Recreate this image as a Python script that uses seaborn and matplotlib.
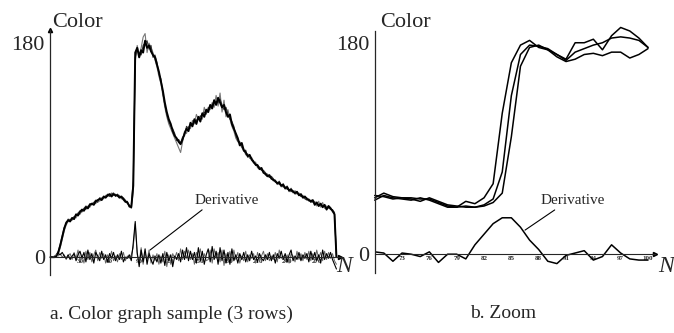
import numpy as np
import pandas as pd
import matplotlib
matplotlib.use('Agg')
import matplotlib.pyplot as plt
import seaborn as sns

sns.set_style('white')
plt.rcParams['font.family'] = ['Liberation Serif', 'DejaVu Serif']

# ---- panel a: three rows of colour values, sampled every 2 pixels (N = 0..290)
row_a = [0, 0, 0, 1, 4, 10, 17, 24, 29, 31,
         30, 33, 32, 36, 35, 38, 40, 39, 42, 41,
         44, 45, 44, 47, 48, 49, 48, 51, 50, 52,
         53, 51, 53, 52, 52, 50, 51, 49, 47, 46,
         43, 42, 60, 172, 176, 168, 174, 172, 182, 176,
         178, 173, 170, 168, 162, 156, 148, 140, 130, 122,
         116, 112, 106, 102, 100, 97, 95, 99, 104, 108,
         106, 113, 110, 116, 112, 118, 114, 121, 118, 124,
         122, 128, 125, 132, 128, 134, 130, 126, 128, 122,
         118, 120, 112, 108, 104, 100, 94, 96, 90, 88,
         85, 86, 82, 80, 78, 77, 74, 75, 71, 70,
         68, 69, 66, 65, 64, 62, 63, 60, 61, 58,
         59, 56, 57, 55, 54, 55, 52, 53, 50, 51,
         49, 48, 47, 48, 44, 46, 43, 45, 42, 44,
         40, 43, 41, 39, 36, 0]
row_b = [0, 0, 0, 0, 3, 8, 15, 22, 27, 30,
         32, 31, 34, 33, 37, 36, 39, 41, 40, 43,
         42, 45, 46, 45, 48, 47, 50, 49, 52, 51,
         52, 54, 52, 53, 51, 52, 49, 50, 48, 45,
         44, 41, 55, 165, 178, 170, 176, 185, 188, 172,
         180, 176, 172, 166, 160, 152, 146, 136, 126, 118,
         112, 108, 104, 100, 96, 92, 88, 97, 106, 104,
         110, 108, 115, 112, 120, 116, 119, 116, 126, 120,
         126, 124, 130, 126, 136, 127, 138, 122, 132, 118,
         124, 116, 110, 106, 100, 97, 96, 92, 91, 86,
         87, 83, 84, 79, 80, 75, 76, 73, 72, 69,
         70, 67, 67, 64, 65, 61, 64, 59, 62, 57,
         60, 55, 58, 54, 56, 53, 54, 51, 52, 50,
         50, 47, 48, 46, 47, 43, 47, 42, 46, 41,
         43, 41, 42, 38, 38, 0]
row_c = [0, 0, 0, 2, 5, 11, 18, 25, 28, 32,
         31, 32, 34, 35, 37, 39, 38, 41, 43, 42,
         45, 44, 46, 48, 46, 50, 49, 50, 51, 53,
         51, 53, 54, 51, 53, 51, 50, 48, 46, 47,
         42, 43, 65, 168, 174, 172, 170, 178, 180, 182,
         175, 178, 168, 170, 164, 154, 150, 138, 128, 120,
         114, 110, 108, 104, 98, 99, 96, 101, 102, 110,
         108, 111, 112, 114, 115, 117, 118, 120, 122, 121,
         125, 127, 128, 130, 131, 130, 133, 128, 124, 126,
         120, 116, 114, 110, 102, 98, 97, 93, 89, 90,
         84, 85, 83, 81, 77, 78, 75, 73, 73, 71,
         69, 67, 68, 66, 63, 63, 61, 61, 59, 59,
         57, 57, 55, 56, 53, 54, 53, 51, 51, 49,
         48, 49, 46, 47, 45, 45, 44, 44, 43, 43,
         41, 42, 40, 40, 37, 0]
deriv_a1 = [0, 0, 0, 1, 3, 2, 4, 1, -1, 2,
            -2, 1, 3, -3, 2, 5, -1, 4, -4, 6,
            -2, 3, -5, 4, 1, -3, 5, -2, 2, -4,
            3, -1, 4, -3, 2, -2, 5, -4, 0, -1,
            2, -3, 12, 30, 4, -8, 6, -4, 7, -6,
            3, -2, -6, 1, -4, 2, -5, 3, -7, 4,
            -3, 2, -8, 1, -2, 3, -4, 6, -2, 8,
            -3, 5, -2, 4, -5, 8, -3, 5, -6, 2,
            7, -4, 9, -2, 5, -6, 8, -3, 6, -5,
            4, -6, 7, -3, 2, -5, 3, -2, 4, -4,
            2, -3, 5, -2, 1, -4, 3, -1, -3, 2,
            -2, 4, -3, 2, -5, 3, -1, 5, -2, 3,
            -4, 2, 6, -3, 1, -2, 4, -3, 2, -1,
            3, -4, 5, -2, 4, -3, 2, -5, 6, -2,
            3, -1, 4, -2, -6, -10]
deriv_a2 = [0, 0, 1, 2, 1, 3, 0, 2, -2, 1,
            3, -2, 4, -1, 6, -3, 2, -5, 5, -2,
            4, -4, 2, 6, -3, 4, -1, 3, -5, 2,
            -2, 5, -3, 1, -4, 3, -2, 4, -3, 1,
            -1, 2, 8, 28, 2, -4, 8, -6, 4, -3,
            6, -5, 2, -3, 3, -6, 1, -4, 5, -8,
            2, -6, 3, -1, 4, -3, 7, -2, 5, -1,
            6, -2, 3, -6, 4, -1, 7, -4, 3, -3,
            -2, 6, -5, 7, -1, 4, -4, 6, -7, 3,
            -3, 5, -4, 6, -2, 4, -5, 1, -3, 5,
            -4, 2, -1, 3, -5, 4, -2, 1, 5, -3,
            3, -3, 1, -2, 4, -4, 6, -1, 1, -3,
            2, -5, 3, 1, -4, 5, -2, 3, -3, 4,
            -2, 5, -3, 3, -4, 6, -1, 4, -3, 5,
            -2, 4, -1, 3, -3, -6]
n_a = np.arange(len(row_a)) * 2
ticks_a = [30, 60, 90, 120, 150, 180, 210, 240, 270]

# ---- panel b: zoom on N = 70..100
n_b = np.arange(70, 101)
zoom_1 = [48, 52, 49, 48, 48, 47, 47, 44, 41, 40, 45, 43, 48, 60, 120, 163,
          178, 182, 176, 174, 170, 166, 180, 180, 183, 174, 186, 193, 190, 184, 176]
zoom_2 = [46, 50, 48, 47, 46, 48, 46, 43, 40, 40, 41, 40, 42, 47, 70, 135,
          170, 178, 177, 175, 170, 165, 172, 175, 178, 180, 184, 185, 184, 182, 176]
zoom_3 = [50, 49, 47, 48, 47, 45, 48, 45, 42, 41, 40, 40, 41, 44, 52, 100,
          160, 176, 178, 174, 168, 164, 166, 170, 171, 169, 172, 172, 167, 170, 175]
deriv_b = [2, 1, -6, 1, 0, -2, 2, -7, 0, 0, -4, 8, 17, 26, 31, 31,
           23, 12, 4, -6, -8, -1, 1, 3, -5, -2, 8, 1, -4, -5, -5]
ticks_b = [73, 76, 79, 82, 85, 88, 91, 94, 97, 100]

W, H = 674, 333
fig = plt.figure(figsize=(W / 100, H / 100), dpi=100)
ax1 = fig.add_axes([50.4 / W, (H - 275) / H, 290 / W, 245 / H])
ax2 = fig.add_axes([374.7 / W, (H - 273) / H, 280.6 / W, 242 / H])

for y, c, lw in [(row_b, '#777777', 0.8), (row_c, '#333333', 0.8), (row_a, 'black', 1.4)]:
    sns.lineplot(x=n_a, y=y, ax=ax1, color=c, lw=lw, clip_on=False)
sns.lineplot(x=n_a, y=deriv_a2, ax=ax1, color='#666666', lw=0.7)
sns.lineplot(x=n_a, y=deriv_a1, ax=ax1, color='black', lw=0.8)

for y in [zoom_1, zoom_2, zoom_3]:
    sns.lineplot(x=n_b, y=y, ax=ax2, color='black', lw=1.1, clip_on=False)
sns.lineplot(x=n_b, y=deriv_b, ax=ax2, color='black', lw=1.1)

ax1.set_xlim(0, 294)
ax1.set_ylim(-15, 191)
ax2.set_xlim(70, 100.8)
ax2.set_ylim(-16, 190)

for ax, ticks in [(ax1, ticks_a), (ax2, ticks_b)]:
    ax.spines[['top', 'right']].set_visible(False)
    ax.spines['bottom'].set_position(('data', 0))
    ax.spines['left'].set_linewidth(0.9)
    ax.spines['bottom'].set_linewidth(0.8)
    ax.set_xticks(ticks)
    ax.set_xticklabels([str(t) for t in ticks], fontsize=5, fontweight='bold')
    ax.tick_params(axis='x', length=0, pad=1)
    ax.set_yticks([0, 30, 60, 90, 120, 150, 180])
    ax.set_yticklabels(['0', '', '', '', '', '', '180'], fontsize=16)
    ax.tick_params(axis='y', direction='in', length=2, width=0.6, pad=4)
    ax.set_xlabel('')
    ax.set_ylabel('')
    ax.plot(1, 0, '>', color='black', ms=3, transform=ax.get_yaxis_transform(), clip_on=False)
    ax.plot(0, 1, '^', color='black', ms=3, transform=ax.get_xaxis_transform(), clip_on=False)
    ax.patch.set_alpha(0)

ax1.annotate('Derivative', xy=(101, 6), xytext=(179, 48), fontsize=11, ha='center', va='center',
             arrowprops=dict(arrowstyle='-', color='black', lw=0.8, relpos=(0.18, 0), shrinkA=0, shrinkB=0))
ax2.annotate('Derivative', xy=(86.5, 20.5), xytext=(91.7, 46), fontsize=11, ha='center', va='center',
             arrowprops=dict(arrowstyle='-', color='black', lw=0.8, relpos=(0.3, 0), shrinkA=0, shrinkB=0))

fig.text(52 / W, 1 - 27 / H, 'Color', fontsize=16, ha='left', va='baseline')
fig.text(380 / W, 1 - 27 / H, 'Color', fontsize=16, ha='left', va='baseline')
fig.text(344 / W, 1 - 266 / H, 'N', fontsize=17, style='italic', ha='center', va='center')
fig.text(666 / W, 1 - 266 / H, 'N', fontsize=17, style='italic', ha='center', va='center')
fig.text(171 / W, 1 - 314 / H, 'a. Color graph sample (3 rows)', fontsize=14, ha='center', va='center')
fig.text(503 / W, 1 - 314 / H, 'b. Zoom', fontsize=14, ha='center', va='center')

fig.savefig('out.png', dpi=100)
